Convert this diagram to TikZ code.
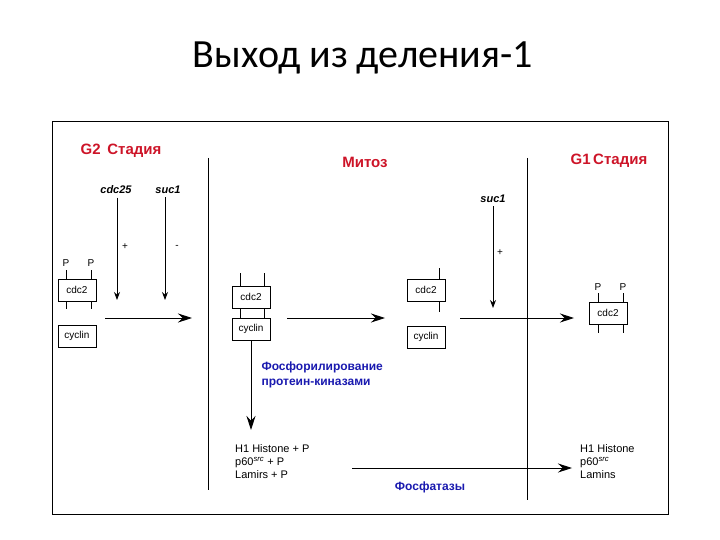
\documentclass[tikz,border=0pt]{standalone}
\usepackage{fontspec}
\setmainfont{Liberation Sans}
\newfontfamily\titlefont{Carlito}
\usetikzlibrary{arrows.meta}
\definecolor{rd}{RGB}{205,20,40}
\definecolor{bl}{RGB}{25,25,175}
\begin{document}
\begin{tikzpicture}[x=1pt,y=-1pt,
  box/.style={draw,line width=0.8pt,minimum width=38pt,minimum height=22pt,inner sep=0pt,font=\fontsize{10}{12}\selectfont},
  arr/.style={line width=0.9pt,-{Stealth[length=14pt,width=9pt]}},
  varr/.style={line width=0.9pt,-{Stealth[length=8pt,width=6pt]}},
  stage/.style={text=rd,font=\bfseries\fontsize{15}{17}\selectfont},
  lbl/.style={font=\bfseries\itshape\fontsize{11}{13}\selectfont},
  bt/.style={text=bl,font=\bfseries\fontsize{12}{15}\selectfont,align=left},
  tx/.style={font=\fontsize{11}{13}\selectfont,align=left,anchor=north west,inner sep=0pt},
  tick/.style={line width=0.8pt}]
\useasboundingbox (0,0) rectangle (720,540);
\node (title) at (363,58) {\titlefont\fontsize{40}{46}\selectfont Выход из деления-1};
\draw[line width=1pt] (52,122) rectangle (668,514);
\node[stage] (g2) at (121,151) {G2\ \,Стадия};
\node[stage] (mit) at (365,162) {Митоз};
\node[stage] (g1) at (609,161) {G1\,Стадия};
\coordinate (v1a) at (208,158); \coordinate (v1b) at (208,490);
\coordinate (v2a) at (527,158); \coordinate (v2b) at (527,500);
\draw[line width=0.9pt] (v1a) -- (v1b);
\draw[line width=0.9pt] (v2a) -- (v2b);
% G2
\node[lbl] (cdc25) at (116,190) {cdc25};
\node[lbl] (suc1a) at (168,190) {suc1};
\coordinate (e1) at (117,300); \coordinate (e2) at (165,300);
\draw[varr] (cdc25.south -| e1) -- (e1);
\draw[varr] (suc1a.south -| e2) -- (e2);
\node (plus1) at (125,247) {\fontsize{10}{12}\selectfont +};
\node (minus1) at (177,247) {\fontsize{10}{12}\selectfont -};
\node[box] (c1) at (77,290) {cdc2};
\node[box] (y1) at (77,336) {cyclin};
\node (p1) at (66,263) {\fontsize{10}{12}\selectfont P};
\node (p2) at (91,263) {\fontsize{10}{12}\selectfont P};
\draw[tick] (66,270) -- (66,279) (91,270) -- (91,279) (66,301) -- (66,309) (91,301) -- (91,309);
\coordinate (h1a) at (105,318); \coordinate (h1b) at (192,318);
\draw[arr] (h1a) -- (h1b);
% Mitosis
\node[box] (c2) at (251,297) {cdc2};
\node[box] (y2) at (251,329) {cyclin};
\draw[tick] (240,273) -- (240,286) (264,273) -- (264,286) (240,308) -- (240,318) (264,308) -- (264,318);
\coordinate (h2a) at (287,318); \coordinate (h2b) at (385,318);
\draw[arr] (h2a) -- (h2b);
\coordinate (dn) at (251,430);
\draw[arr] (y2.south) -- (dn);
\node[bt,anchor=west] (fosf) at (258,375) {Фосфорилирование\\протеин-киназами};
\node[box] (c3) at (426,290) {cdc2};
\node[box] (y3) at (426,337) {cyclin};
\draw[tick] (439,268) -- (439,279) (439,301) -- (439,312);
\node[lbl] (suc1b) at (493,199) {suc1};
\coordinate (e3) at (493,308);
\draw[varr] (suc1b.south) -- (e3);
\node (plus2) at (500,253) {\fontsize{10}{12}\selectfont +};
\coordinate (h3a) at (460,318); \coordinate (h3b) at (574,318);
\draw[arr] (h3a) -- (h3b);
% G1
\node[box] (c4) at (608,313) {cdc2};
\node (p3) at (598,287) {\fontsize{10}{12}\selectfont P};
\node (p4) at (623,287) {\fontsize{10}{12}\selectfont P};
\draw[tick] (598,293) -- (598,302) (623,293) -- (623,302) (598,325) -- (598,333) (623,325) -- (623,333);
% bottom
\node[tx] (left) at (235,444) {H1 Histone + P\\p60$^{\mathit{src}}$ + P\\Lamirs + P};
\node[tx] (right) at (580,444) {H1 Histone\\p60$^{\mathit{src}}$\\Lamins};
\coordinate (b1) at (352,468); \coordinate (b2) at (572,468);
\draw[arr] (b1) -- (b2);
\node[bt] (phos) at (430,487) {Фосфатазы};
\end{tikzpicture}
\end{document}
